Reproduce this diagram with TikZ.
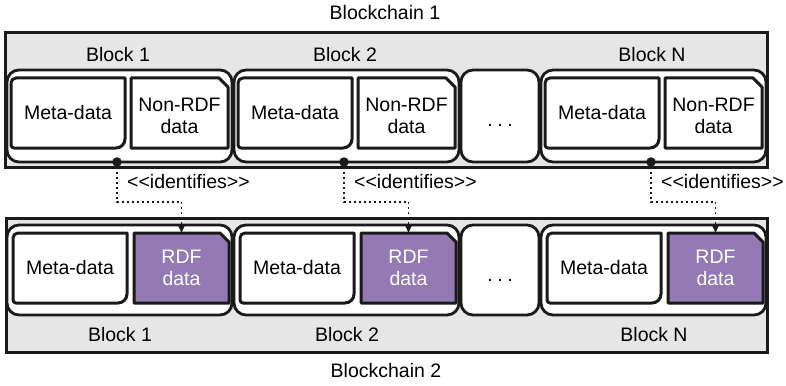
\documentclass[tikz,border=0pt]{standalone}
\usepackage{fontspec}
\setmainfont{Liberation Sans}
\usepackage{tikz}
\usetikzlibrary{arrows.meta,positioning,calc}
\definecolor{ink}{HTML}{1A1A1A}
\definecolor{chaingray}{HTML}{E6E6E6}
\definecolor{rdfpurple}{HTML}{937AB4}
\tikzset{
  chainbox/.style={draw=ink, fill=chaingray, line width=3pt},
  blockbox/.style={draw=ink, fill=white, line width=2.8pt, rounded corners=12pt},
  part/.style={draw=ink, line width=3pt, line join=round},
  idf/.style={draw=ink, line width=1.6pt, dash pattern=on 1.6pt off 3.4pt, -{Stealth[inset=0pt,length=8pt,width=7pt]}}
}
\begin{document}
\begin{tikzpicture}[x=1pt, y=-1pt, every node/.style={font=\fontsize{19.5}{21.5}\selectfont, inner sep=0pt, align=center}]
\useasboundingbox (0,0) rectangle (786,385);
% the two chains
\draw[chainbox] (5,33) rectangle (767,167);
\draw[chainbox] (6,218) rectangle (767,352);
\node (bc1) at (385,13) {Blockchain 1};
\node (bc2) at (386,371) {Blockchain 2};
% blocks: top row 70..162, bottom row 225..315
\foreach \i/\L/\lab in {1/7/Block 1, 2/234/Block 2, 3/541/Block N} {
  \draw[blockbox] (\L,70) rectangle ++(225,92);
  \draw[blockbox] (\L,225) rectangle ++(225,90);
  % meta-data and non-RDF data (top)
  \draw[part, fill=white] (\L+4,148) [rounded corners=5pt] -- (\L+4,78) [sharp corners] -- (\L+118,78) [rounded corners=9pt] -- (\L+118,148) [rounded corners=3pt] -- cycle;
  \draw[part, fill=white] (\L+124,78) -- (\L+212,78) -- (\L+221,87) -- (\L+221,148) -- (\L+124,148) -- cycle;
  % meta-data and RDF data (bottom)
  \draw[part, fill=white] (\L+6,303) [rounded corners=5pt] -- (\L+6,233) [sharp corners] -- (\L+120,233) [rounded corners=9pt] -- (\L+120,303) [rounded corners=3pt] -- cycle;
  \draw[part, fill=rdfpurple] (\L+127,233) -- (\L+213,233) -- (\L+222,242) -- (\L+222,303) -- (\L+127,303) -- cycle;
  \node (mt\i) at (\L+61,113) {Meta-data};
  \node (dt\i) at (\L+172.5,116) {Non-RDF\\data};
  \node (mb\i) at (\L+63,268) {Meta-data};
  \node[text=white, minimum width=95pt, minimum height=70pt] (rb\i) at (\L+174.5,268) {RDF\\data};
  \node (bt\i) at (\L+111,55) {\lab};
  \node (bb\i) at (\L+113,335) {\lab};
  % identifies link
  \node[circle, fill=ink, minimum size=9.5pt] (dot\i) at (\L+110,162) {};
  \coordinate (turn\i) at (\L+110,202);
  \draw[idf] (dot\i) -- (turn\i) -| (rb\i.north);
  \node[anchor=west] (id\i) at (\L+120,182) {<{}<identifies>{}>};
}
% the gap between block 2 and block N
\draw[blockbox] (461,70) rectangle (539,162);
\draw[blockbox] (461,225) rectangle (539,315);
\node (gt) at (500,125) {.\hspace{4.6pt}.\hspace{4.6pt}.};
\node (gb) at (500,280) {.\hspace{4.6pt}.\hspace{4.6pt}.};
\end{tikzpicture}
\end{document}
